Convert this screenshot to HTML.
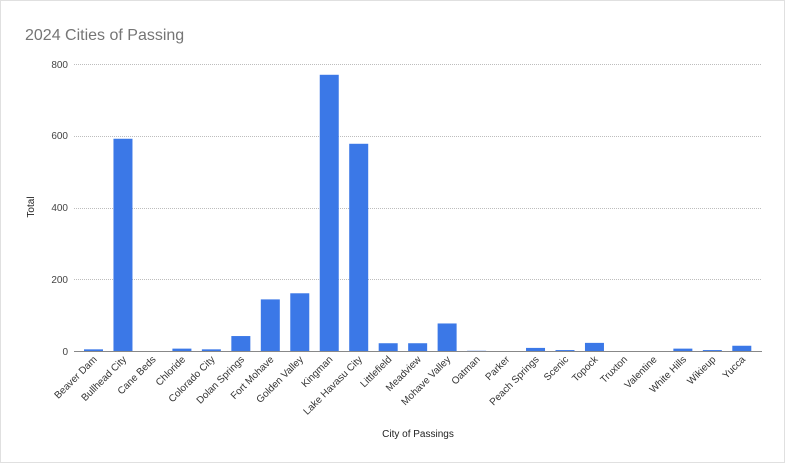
<!DOCTYPE html>
<html><head><style>body{margin:0;background:#fff}svg{display:block}text{font-family:"Liberation Sans",Arial,sans-serif}</style></head>
<body>
<svg width="785" height="463" xmlns="http://www.w3.org/2000/svg">
<rect x="0" y="0" width="785" height="463" fill="#fff"/>
<rect x="0.5" y="0.5" width="784" height="462" fill="none" stroke="#e0e0e0"/>
<text x="25" y="40" font-size="16" fill="#757575">2024 Cities of Passing</text>
<g stroke="#bdbdbd" stroke-dasharray="1,1" stroke-width="1">
<line x1="74" x2="762" y1="64.5" y2="64.5"/>
<line x1="74" x2="762" y1="136.5" y2="136.5"/>
<line x1="74" x2="762" y1="208.5" y2="208.5"/>
<line x1="74" x2="762" y1="279.5" y2="279.5"/>
</g>
<g font-size="10" fill="#444" text-anchor="end">
<text x="68" y="68">800</text><text x="68" y="139">600</text><text x="68" y="211">400</text><text x="68" y="283">200</text><text x="68" y="355">0</text>
</g>
<text transform="translate(34,207) rotate(-90)" font-size="10" fill="#222" text-anchor="middle">Total</text>
<text x="418" y="437" font-size="10" fill="#222" text-anchor="middle">City of Passings</text>
<g id="bars" fill="#3b78e7"></g>
<line x1="74" x2="762" y1="351.5" y2="351.5" stroke="#888"/>
<g id="labels" font-size="10" fill="#333" text-anchor="end"></g>
<script>
var d=[["Beaver Dam",6],["Bullhead City",592],["Cane Beds",0],["Chloride",8],["Colorado City",6],["Dolan Springs",43],["Fort Mohave",145],["Golden Valley",162],["Kingman",770],["Lake Havasu City",578],["Littlefield",23],["Meadview",23],["Mohave Valley",78],["Oatman",2],["Parker",0],["Peach Springs",10],["Scenic",4],["Topock",24],["Truxton",0],["Valentine",0],["White Hills",8],["Wikieup",4],["Yucca",16]];
var b=document.getElementById("bars"),l=document.getElementById("labels"),ns="http://www.w3.org/2000/svg";
var step=(741.8-93.5)/22;
d.forEach(function(e,i){var c=93.5+i*step*(22/22);c=93.5+i*((741.8-93.5)/(d.length-1));
var h=e[1]*287.5/800;if(h>0){var r=document.createElementNS(ns,"rect");r.setAttribute("x",c-9.5);r.setAttribute("y",351.5-h);r.setAttribute("width",19);r.setAttribute("height",h);b.appendChild(r);}
var t=document.createElementNS(ns,"text");t.setAttribute("transform","translate("+(c+4)+",360) rotate(-45)");t.textContent=e[0];l.appendChild(t);});
</script>
</svg>
</body></html>
